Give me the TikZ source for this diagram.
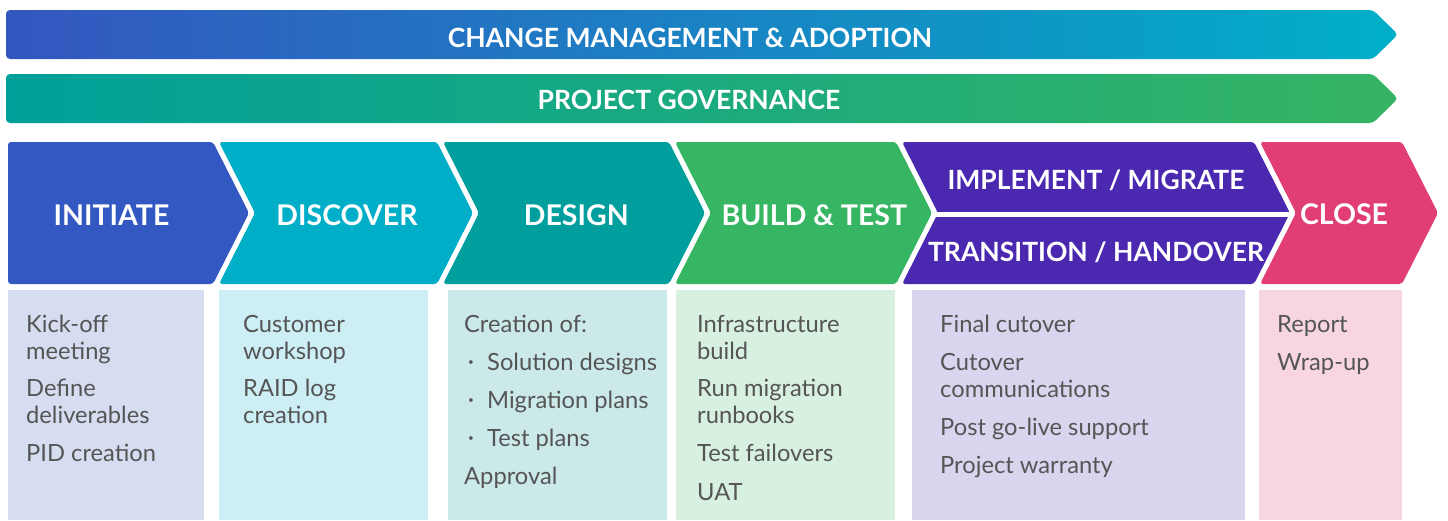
\documentclass[tikz,border=0pt]{standalone}
\usepackage{fontspec}
\setmainfont{Lato}
\definecolor{bannerAl}{HTML}{3456BF}
\definecolor{bannerAr}{HTML}{00AFC8}
\definecolor{bannerBl}{HTML}{00A09A}
\definecolor{bannerBr}{HTML}{36B463}
\definecolor{cInit}{HTML}{3358C1}
\definecolor{cDisc}{HTML}{00AEC8}
\definecolor{cDesi}{HTML}{009E9C}
\definecolor{cBuil}{HTML}{36B562}
\definecolor{cImpl}{HTML}{4A28AF}
\definecolor{cClos}{HTML}{E03E74}
\definecolor{bInit}{HTML}{D6DDF1}
\definecolor{bDisc}{HTML}{CCEEF4}
\definecolor{bDesi}{HTML}{CCE9E9}
\definecolor{bBuil}{HTML}{D7F0E0}
\definecolor{bImpl}{HTML}{DBD4EE}
\definecolor{bClos}{HTML}{F7D6E1}
\definecolor{txtgray}{HTML}{555555}
\begin{document}
\begin{tikzpicture}[x=1pt,y=-1pt,
  chevshape/.style={rounded corners=3pt},
  bannertxt/.style={text=white,font=\bfseries\fontsize{26.5}{28}\selectfont,anchor=base,inner sep=0pt},
  ttl/.style={text=white,font=\bfseries\fontsize{28.5}{30}\selectfont,anchor=base,inner sep=0pt},
  subttl/.style={text=white,font=\bfseries\fontsize{26.5}{28}\selectfont,anchor=base,inner sep=0pt},
  itm/.style={text=txtgray,font=\fontsize{23.7}{27}\selectfont,anchor=base west,inner sep=0pt},
  bul/.style={text=txtgray,font=\fontsize{10}{12}\selectfont,anchor=center,inner sep=0pt}]
\useasboundingbox (0,0) rectangle (1448,520);
% banners
\shade[left color=bannerAl, right color=bannerAr, rounded corners=4pt]
  (6,10) -- (1373,10) -- (1398,34.5) -- (1373,59) -- (6,59) -- cycle;
\shade[left color=bannerBl, right color=bannerBr, rounded corners=4pt]
  (6,74) -- (1373,74) -- (1398,98.5) -- (1373,123) -- (6,123) -- cycle;
\node[bannertxt] (change) at (690,47.3) {CHANGE MANAGEMENT \& ADOPTION};
\node[bannertxt] (gov) at (689,109) {PROJECT GOVERNANCE};
% chevrons
\fill[cInit, chevshape] (8,142) -- (213,142) -- (249,213) -- (213,284) -- (8,284) -- cycle;
\fill[cDisc, chevshape] (219,142) -- (437,142) -- (473,213) -- (437,284) -- (219,284) -- (255,213) -- cycle;
\fill[cDesi, chevshape] (443,142) -- (669,142) -- (705,213) -- (669,284) -- (443,284) -- (479,213) -- cycle;
\fill[cBuil, chevshape] (675,142) -- (896,142) -- (932,213) -- (896,284) -- (675,284) -- (711,213) -- cycle;
\fill[cImpl, chevshape] (902,142) -- (1254,142) -- (1290,213) -- (1254,284) -- (902,284) -- (938,213) -- cycle;
\fill[cClos, chevshape] (1260,142) -- (1402,142) -- (1438,213) -- (1402,284) -- (1260,284) -- (1296,213) -- cycle;
\coordinate (divL) at (936,214.5);
\coordinate (divR) at (1292,214.5);
\draw[white, line width=4.5pt] (divL) -- (divR);
\node[ttl] (initiate) at (111.5,225) {INITIATE};
\node[ttl] (discover) at (347,225) {DISCOVER};
\node[ttl] (design) at (576.3,225) {DESIGN};
\node[ttl] (build) at (814.3,225) {BUILD \& TEST};
\node[subttl] (implement) at (1096,189) {IMPLEMENT / MIGRATE};
\node[subttl] (transition) at (1096,261.7) {TRANSITION / HANDOVER};
\node[ttl] (close) at (1344,224) {CLOSE};
% boxes
\fill[bInit] (8,290) rectangle (204,520);
\fill[bDisc] (219,290) rectangle (428,520);
\fill[bDesi] (448,290) rectangle (667,520);
\fill[bBuil] (676,290) rectangle (895,520);
\fill[bImpl] (912,290) rectangle (1245,520);
\fill[bClos] (1259,290) rectangle (1402,520);
% box texts
\node[itm] (i1) at (26,332) {Kick-off};
\node[itm] (i2) at (26,359) {meeting};
\node[itm] (i3) at (26,396.5) {Define};
\node[itm] (i4) at (26,423.5) {deliverables};
\node[itm] (i5) at (26,461.5) {PID creation};
\node[itm] (d1) at (243,332) {Customer};
\node[itm] (d2) at (243,359) {workshop};
\node[itm] (d3) at (243,396.5) {RAID log};
\node[itm] (d4) at (243,423.5) {creation};
\node[itm] (g1) at (464,332) {Creation of:};
\node[bul] (gb1) at (471,363.5) {•};
\node[itm] (g2) at (487,370) {Solution designs};
\node[bul] (gb2) at (471,401.5) {•};
\node[itm] (g3) at (487,408) {Migration plans};
\node[bul] (gb3) at (471,439.5) {•};
\node[itm] (g4) at (487,446) {Test plans};
\node[itm] (g5) at (464,484) {Approval};
\node[itm] (b1) at (697,332) {Infrastructure};
\node[itm] (b2) at (697,359) {build};
\node[itm] (b3) at (697,396.5) {Run migration};
\node[itm] (b4) at (697,423.5) {runbooks};
\node[itm] (b5) at (697,461.5) {Test failovers};
\node[itm] (b6) at (697,500) {UAT};
\node[itm] (m1) at (940,332) {Final cutover};
\node[itm] (m2) at (940,370) {Cutover};
\node[itm] (m3) at (940,397) {communications};
\node[itm] (m4) at (940,435.5) {Post go-live support};
\node[itm] (m5) at (940,473.5) {Project warranty};
\node[itm] (c1) at (1277,332) {Report};
\node[itm] (c2) at (1277,370) {Wrap-up};
\end{tikzpicture}
\end{document}
